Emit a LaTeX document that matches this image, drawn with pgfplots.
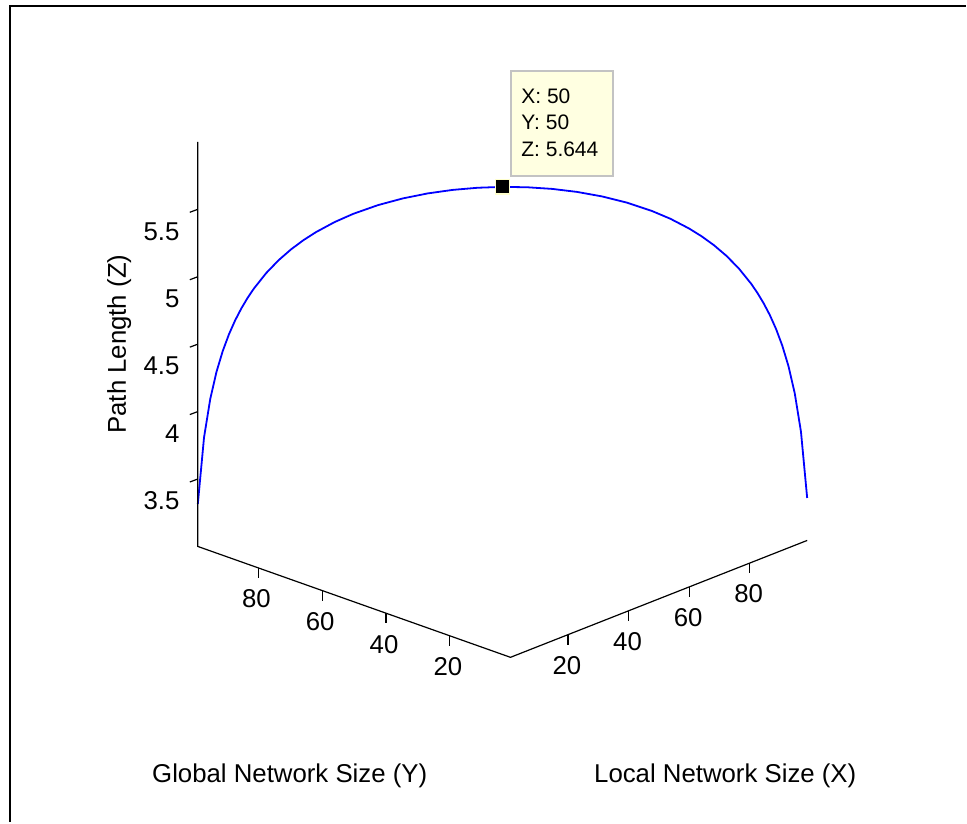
\documentclass[border=0pt]{standalone}
\usepackage{fontspec}
\setmainfont{Liberation Sans}
\usepackage{pgfplots}
\pgfplotsset{compat=1.18}
\definecolor{tipfill}{RGB}{255,255,225}
\definecolor{tipborder}{RGB}{195,195,195}
\definecolor{markedge}{RGB}{255,255,205}
\pgfplotstableread{
X Y Z
1 99 3.3147
2 98 3.8074
3 97 4.0924
4 96 4.2925
5 95 4.4459
6 94 4.5698
7 93 4.6733
8 92 4.7618
9 91 4.8389
10 90 4.9069
12 88 5.0222
14 86 5.1168
16 84 5.1962
18 82 5.2637
20 80 5.3219
23 77 5.3952
26 74 5.4550
30 70 5.5181
34 66 5.5659
38 62 5.6011
42 58 5.6252
46 54 5.6392
50 50 5.6439
54 46 5.6392
58 42 5.6252
62 38 5.6011
66 34 5.5659
70 30 5.5181
74 26 5.4550
77 23 5.3952
80 20 5.3219
82 18 5.2637
84 16 5.1962
86 14 5.1168
88 12 5.0222
90 10 4.9069
91 9 4.8389
92 8 4.7618
93 7 4.6733
94 6 4.5698
95 5 4.4459
96 4 4.2925
97 3 4.0924
98 2 3.8074
99 1 3.3147
}\curvedata
\begin{document}
\begin{tikzpicture}
\begin{axis}[
  x={(1.5153pt,0.5969pt)}, y={(-1.5969pt,0.5663pt)}, z={(0pt,67.5pt)},
  xmin=1,xmax=99,ymin=1,ymax=99,zmin=3,zmax=6,
  hide axis, clip=false,
]
\addplot3[color={rgb,255:red,0;green,0;blue,255}, line width=0.9pt] table[x=X,y=Y,z=Z] {\curvedata};
\addplot3[only marks, mark=square*, mark size=3.6pt, mark options={fill=black, draw=markedge, line width=0.8pt}] coordinates {(50,50,5.644)};
% axis lines
\draw[line width=0.6pt] (axis cs:99,1,3) -- (axis cs:1,1,3) -- (axis cs:1,99,3) -- (axis cs:1,99,6);
\pgfplotsinvokeforeach{20,40,60,80}{
  \draw[line width=0.6pt] (axis cs:#1,1,3) -- ++(0pt,-5pt);
  \node[font=\fontsize{12.9}{15.5}\selectfont, inner sep=0pt] at ([yshift=-15.5pt,xshift=-0.5pt]axis cs:#1,1,3) {#1};
  \draw[line width=0.6pt] (axis cs:1,#1,3) -- ++(0pt,-5pt);
  \node[font=\fontsize{12.9}{15.5}\selectfont, inner sep=0pt] at ([yshift=-15.5pt,xshift=-1pt]axis cs:1,#1,3) {#1};
}
\pgfplotsinvokeforeach{3.5,4,4.5,5,5.5}{
  \draw[line width=0.6pt] (axis cs:1,99,#1) -- ++(-4pt,-1.5pt);
  \node[font=\fontsize{12.9}{15.5}\selectfont, inner sep=0pt, anchor=east] at ([yshift=-11pt,xshift=-9pt]axis cs:1,99,#1) {#1};
}
\coordinate (O) at (axis cs:1,1,3);
% data tip
\node[draw=tipborder, fill=tipfill, line width=0.7pt, anchor=south west, minimum width=51pt, minimum height=52.5pt, inner sep=0pt, outer sep=0pt] (tip) at ([xshift=4.25pt,yshift=5.5pt]axis cs:50,50,5.644) {};
\node[font=\fontsize{10.5}{12.6}\selectfont, inner sep=0pt, anchor=base west] at ([xshift=5pt,yshift=-16.25pt]tip.north west) {X: 50};
\node[font=\fontsize{10.5}{12.6}\selectfont, inner sep=0pt, anchor=base west] at ([xshift=5pt,yshift=-29.5pt]tip.north west) {Y: 50};
\node[font=\fontsize{10.5}{12.6}\selectfont, inner sep=0pt, anchor=base west] at ([xshift=5pt,yshift=-42.75pt]tip.north west) {Z: 5.644};
\end{axis}
% axis labels
\node[font=\fontsize{12.9}{15.5}\selectfont, inner sep=0pt, anchor=base] at ([xshift=-110.5pt,yshift=-62.5pt]O) {Global Network Size (Y)};
\node[font=\fontsize{12.9}{15.5}\selectfont, inner sep=0pt, anchor=base] at ([xshift=107.5pt,yshift=-62.5pt]O) {Local Network Size (X)};
\node[font=\fontsize{12.9}{15.5}\selectfont, inner sep=0pt, anchor=base, rotate=90] at ([xshift=-192.5pt,yshift=156.75pt]O) {Path Length (Z)};
% frame
\draw[line width=1pt] ([shift={(-250.25pt,-82.5pt)}]O) -- ([shift={(-250.25pt,325.75pt)}]O) -- ([shift={(228pt,325.75pt)}]O);
\path ([shift={(-255.5pt,-82.5pt)}]O) rectangle ([shift={(228pt,329pt)}]O);
\end{tikzpicture}
\end{document}
